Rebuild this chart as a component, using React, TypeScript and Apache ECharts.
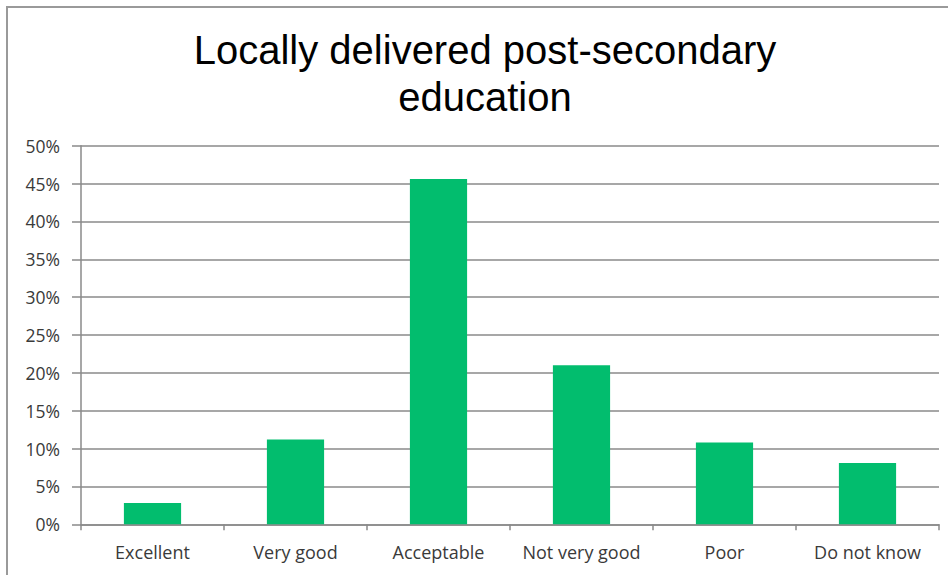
import React, { useEffect, useRef } from "react";
import * as echarts from "echarts";

const categories = ["Excellent", "Very good", "Acceptable", "Not very good", "Poor", "Do not know"];
const values = [2.8, 11.2, 45.6, 21.0, 10.8, 8.1];
const titleLines = ["Locally delivered post-secondary", "education"];

export default function App() {
  const ref = useRef<HTMLDivElement>(null);
  useEffect(() => {
    if (!ref.current) return;
    const chart = echarts.init(ref.current, null, { renderer: "svg" });
    const axisGray = "#8a8a8a";
    chart.setOption({
      animation: false,
      backgroundColor: "#ffffff",
      title: {
        text: titleLines.join("\n"),
        left: 485,
        top: 26,
        textAlign: "center",
        padding: 0,
        textStyle: {
          fontFamily: "Liberation Sans, Arial, sans-serif",
          fontSize: 40,
          fontWeight: "normal",
          color: "#000000",
          lineHeight: 47,
        },
      },
      graphic: [
        {
          type: "rect",
          shape: { x: 7, y: 7, width: 1200, height: 1200 },
          style: { fill: "none", stroke: "#9a9a9a", lineWidth: 2 },
          silent: true,
        },
      ],
      grid: { left: 81, right: 9, top: 145.7, bottom: 50.7, containLabel: false },
      xAxis: {
        type: "category",
        data: categories,
        axisLine: { show: true, lineStyle: { color: axisGray, width: 1.5 } },
        axisTick: { show: true, length: 6, alignWithLabel: false, lineStyle: { color: axisGray, width: 1.5 } },
        axisLabel: {
          margin: 19,
          fontFamily: "Open Sans, sans-serif",
          fontSize: 18,
          color: "#3a3a3a",
          interval: 0,
        },
      },
      yAxis: {
        type: "value",
        min: 0,
        max: 50,
        interval: 5,
        axisLine: { show: true, lineStyle: { color: axisGray, width: 1.5 } },
        axisTick: { show: true, length: 9, inside: false, lineStyle: { color: axisGray, width: 1.5 } },
        splitLine: { show: true, lineStyle: { color: axisGray, width: 1.5 } },
        axisLabel: {
          formatter: "{value}%",
          margin: 21,
          fontFamily: "Open Sans, sans-serif",
          fontSize: 17.5,
          color: "#3a3a3a",
        },
      },
      series: [
        {
          type: "bar",
          data: values,
          barWidth: "40%",
          itemStyle: { color: "#02BD6E" },
        },
      ],
    });
    return () => chart.dispose();
  }, []);
  return (
    <div
      ref={ref}
      style={{ position: "fixed", left: 0, top: 0, width: 948, height: 575 }}
    />
  );
}
